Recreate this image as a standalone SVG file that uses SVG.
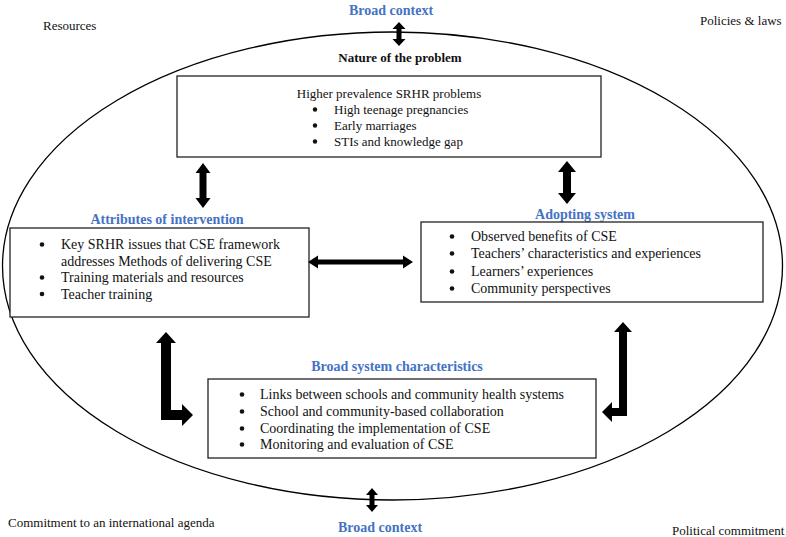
<svg xmlns="http://www.w3.org/2000/svg" width="786" height="537" viewBox="0 0 786 537">
<style>
text{font-family:"Liberation Serif","Times New Roman",serif;fill:#111}
.t{font-size:14px}
.s{font-size:13px}
.h{font-size:14px;font-weight:bold;fill:#4472C4}
.hb{font-size:13px;font-weight:bold;fill:#111}
.box{fill:#fff;stroke:#222;stroke-width:1.3}
.arr{fill:#000}
.dot{fill:#111}
</style>
<rect width="786" height="537" fill="#fff"/>
<ellipse id="context-ellipse" cx="392.5" cy="266" rx="390" ry="234" fill="none" stroke="#000" stroke-width="1.3"/>
<g id="context-labels">
<text class="s" x="43" y="30">Resources</text>
<text class="s" x="700" y="25">Policies &amp; laws</text>
<text class="s" x="8" y="527">Commitment to an international agenda</text>
<text class="s" x="672" y="535">Political commitment</text>
<text class="h" x="391" y="15" text-anchor="middle">Broad context</text>
<text class="h" x="380" y="532" text-anchor="middle">Broad context</text>
</g>
<g id="nature">
<text class="hb" x="400" y="62" text-anchor="middle">Nature of the problem</text>
<rect class="box" x="177" y="76" width="424" height="81"/>
<text class="s" x="389" y="98" text-anchor="middle">Higher prevalence SRHR problems</text>
<circle class="dot" cx="315" cy="109.5" r="2.2"/><text class="s" x="334" y="114">High teenage pregnancies</text>
<circle class="dot" cx="315" cy="125.5" r="2.2"/><text class="s" x="334" y="130">Early marriages</text>
<circle class="dot" cx="315" cy="141.5" r="2.2"/><text class="s" x="334" y="146">STIs and knowledge gap</text>
</g>
<g id="attributes">
<text class="h" x="167" y="224" text-anchor="middle">Attributes of intervention</text>
<rect class="box" x="10" y="228" width="299" height="89"/>
<circle class="dot" cx="42" cy="244.5" r="2.3"/><text class="t" x="61" y="249">Key SRHR issues that CSE framework</text>
<text class="t" x="61" y="265.5">addresses Methods of delivering CSE</text>
<circle class="dot" cx="42" cy="277.5" r="2.3"/><text class="t" x="61" y="282">Training materials and resources</text>
<circle class="dot" cx="42" cy="294" r="2.3"/><text class="t" x="61" y="298.5">Teacher training</text>
</g>
<g id="adopting">
<text class="h" x="585" y="219" text-anchor="middle">Adopting system</text>
<rect class="box" x="421" y="222" width="342" height="80"/>
<circle class="dot" cx="452" cy="236.5" r="2.3"/><text class="t" x="471" y="241">Observed benefits of CSE</text>
<circle class="dot" cx="452" cy="253.5" r="2.3"/><text class="t" x="471" y="258">Teachers’ characteristics and experiences</text>
<circle class="dot" cx="452" cy="271.5" r="2.3"/><text class="t" x="471" y="276">Learners’ experiences</text>
<circle class="dot" cx="452" cy="288.5" r="2.3"/><text class="t" x="471" y="293">Community perspectives</text>
</g>
<g id="system">
<text class="h" x="397" y="371" text-anchor="middle">Broad system characteristics</text>
<rect class="box" x="208" y="379" width="388" height="79"/>
<circle class="dot" cx="242" cy="394.5" r="2.3"/><text class="t" x="260" y="399">Links between schools and community health systems</text>
<circle class="dot" cx="242" cy="411.5" r="2.3"/><text class="t" x="260" y="416">School and community-based collaboration</text>
<circle class="dot" cx="242" cy="428.5" r="2.3"/><text class="t" x="260" y="433">Coordinating the implementation of CSE</text>
<circle class="dot" cx="242" cy="444.5" r="2.3"/><text class="t" x="260" y="449">Monitoring and evaluation of CSE</text>
</g>
<g id="connectors">
<polygon class="arr" points="399,22 405.5,29 401.5,29 401.5,39 405.5,39 399,46 392.5,39 396.5,39 396.5,29 392.5,29"/>
<polygon class="arr" points="372,488 378,495 374.5,495 374.5,505 378,505 372,512 366,505 369.5,505 369.5,495 366,495"/>
<polygon class="arr" points="203,163 210.5,173 206.5,173 206.5,198 210.5,198 203,208 195.5,198 199.5,198 199.5,173 195.5,173"/>
<polygon class="arr" points="567,161 576,172 571,172 571,193 576,193 567,204 558,193 563,193 563,172 558,172"/>
<polygon class="arr" points="308,262 318,255.5 318,259.5 403,259.5 403,255.5 413,262 403,268.5 403,264.5 318,264.5 318,268.5"/>
<polygon class="arr" points="166,332 176,343 171,343 171,410 182,410 182,404 193,415 182,426 182,420 161,420 161,343 156,343"/>
<polygon class="arr" points="623,322 632,332 627,332 627,416 612,416 612,422 602,412 612,402 612,408 619,408 619,332 614,332"/>
</g>
</svg>
